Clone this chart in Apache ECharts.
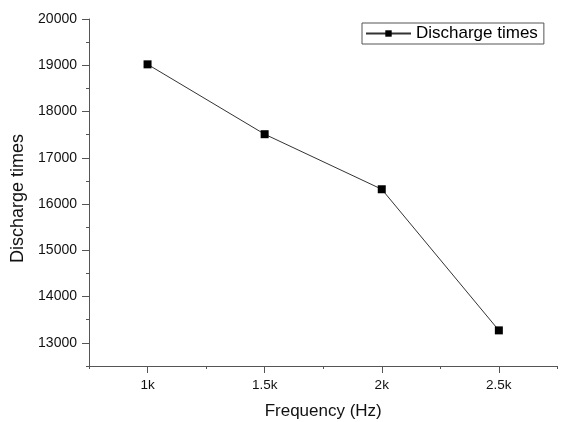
<!DOCTYPE html>
<html>
<head>
<meta charset="utf-8">
<script src="https://cdn.jsdelivr.net/npm/echarts@6/dist/echarts.min.js"></script>
<style>
html,body{margin:0;padding:0;background:#fff;}
#chart{width:562px;height:422px;}
</style>
</head>
<body>
<div id="chart"></div>
<script>
// Data
var frequencies = [1000, 1500, 2000, 2500];
var dischargeTimes = [19020, 17510, 16320, 13270];
var seriesName = 'Discharge times';
var xMajorTicks = [1000, 1500, 2000, 2500];
var xMinorTicks = [750, 1250, 1750, 2250, 2750];
var yMajorTicks = [13000, 14000, 15000, 16000, 17000, 18000, 19000, 20000];
var yMinorTicks = [12500, 13500, 14500, 15500, 16500, 17500, 18500, 19500];

var FONT = "'Liberation Sans', Arial, sans-serif";
var AXIS_COLOR = '#555';

var chart = echarts.init(document.getElementById('chart'), null, {renderer: 'canvas'});

var points = frequencies.map(function (f, i) { return [f, dischargeTimes[i]]; });

var option = {
  backgroundColor: '#fff',
  animation: false,
  grid: {left: 89, right: 4.6, top: 19, bottom: 56, containLabel: false, outerBoundsMode: 'none'},
  legend: {
    data: [seriesName],
    left: 362, top: 23,
    borderColor: AXIS_COLOR, borderWidth: 1,
    padding: [2, 6, 2, 3],
    itemWidth: 45, itemHeight: 8,
    textStyle: {fontSize: 17, color: '#000', fontFamily: FONT}
  },
  xAxis: [{
    type: 'value', min: 750, max: 2750, interval: 250,
    name: 'Frequency (Hz)', nameLocation: 'middle', nameGap: 37,
    nameTextStyle: {fontSize: 17, color: '#111', fontFamily: FONT},
    axisLine: {show: true, onZero: false, lineStyle: {color: AXIS_COLOR, width: 1}},
    axisTick: {show: true, customValues: xMajorTicks, length: 7, lineStyle: {color: AXIS_COLOR}},
    axisLabel: {customValues: xMajorTicks, margin: 12, fontSize: 13.5, color: '#111', fontFamily: FONT,
      formatter: function (v) { return (v / 1000) + 'k'; }},
    splitLine: {show: false}
  }, {
    type: 'value', min: 750, max: 2750, interval: 250, position: 'bottom',
    axisLine: {show: false},
    axisTick: {show: true, customValues: xMinorTicks, length: 3, lineStyle: {color: AXIS_COLOR}},
    axisLabel: {show: false},
    splitLine: {show: false}
  }],
  yAxis: [{
    type: 'value', min: 12500, max: 20000, interval: 500,
    name: 'Discharge times', nameLocation: 'middle', nameGap: 62, nameRotate: 90,
    nameTextStyle: {fontSize: 18, color: '#111', fontFamily: FONT, padding: [0, 12, 0, 0]},
    axisLine: {show: true, onZero: false, lineStyle: {color: AXIS_COLOR, width: 1}},
    axisTick: {show: true, customValues: yMajorTicks, length: 7, lineStyle: {color: AXIS_COLOR}},
    axisLabel: {customValues: yMajorTicks, margin: 12, fontSize: 14, color: '#111', fontFamily: FONT,
      formatter: function (v) { return String(v); }},
    splitLine: {show: false}
  }, {
    type: 'value', min: 12500, max: 20000, interval: 500, position: 'left',
    axisLine: {show: false},
    axisTick: {show: true, customValues: yMinorTicks, length: 3, lineStyle: {color: AXIS_COLOR}},
    axisLabel: {show: false},
    splitLine: {show: false}
  }],
  series: [{
    name: seriesName,
    type: 'line',
    xAxisIndex: 0, yAxisIndex: 0,
    data: points,
    symbol: 'rect', symbolSize: 8,
    itemStyle: {color: '#000'},
    lineStyle: {color: '#333', width: 1}
  }]
};
chart.setOption(option);
</script>
</body>
</html>
